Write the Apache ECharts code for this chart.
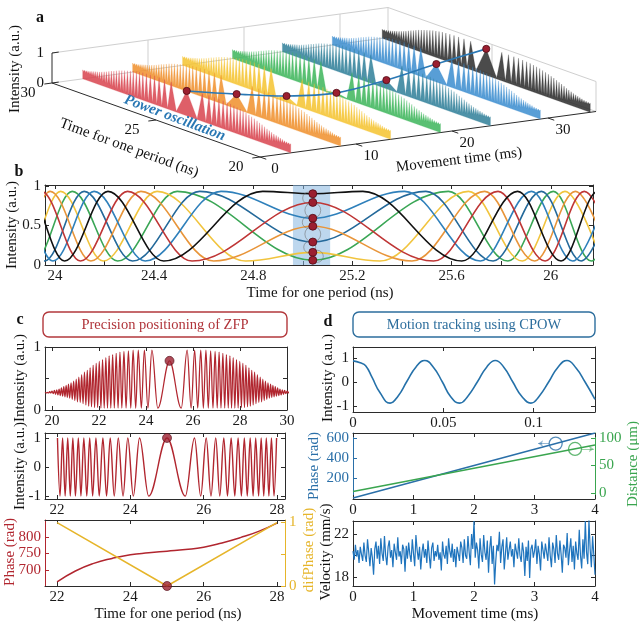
<!DOCTYPE html>
<html>
<head>
<meta charset="utf-8">
<script src="https://cdn.jsdelivr.net/npm/echarts@6/dist/echarts.min.js"></script>
<style>
html,body{margin:0;padding:0;background:#fff;}
#chart{width:639px;height:627px;}
</style>
</head>
<body>
<div id="chart"></div>
<script>
// ---------------- panel a : waterfall ----------------
var movementTicks = [0, 10, 20, 30];
var periodTicks = [20, 25, 30];
var traceMovement = [3.2, 8.4, 13.6, 18.8, 24.0, 29.2, 34.4];
var powerOsc = [0.83, 0.50, 0.21, 0.09, 0.29, 0.60, 0.88];
var zfpA = 25.0;

// fringe positions, ns away from the zero-frequency point (shared by a and c)
var peakOffsets = [0.75, 1.07, 1.33, 1.55, 1.75, 1.94, 2.11, 2.27, 2.42, 2.57, 2.71, 2.85, 2.99,
  3.12, 3.25, 3.38, 3.50, 3.62, 3.74, 3.86, 3.97, 4.08, 4.19, 4.30, 4.40, 4.50, 4.60, 4.70,
  4.80, 4.90, 5.00, 5.10, 5.20, 5.30];
var troughOffsets = [0.50, 0.92, 1.20, 1.44, 1.65, 1.85, 2.03, 2.19, 2.35, 2.50, 2.64, 2.78, 2.92,
  3.06, 3.19, 3.32, 3.44, 3.56, 3.68, 3.80, 3.92, 4.03, 4.14, 4.25, 4.35, 4.45, 4.55, 4.65,
  4.75, 4.85, 4.95, 5.05, 5.15, 5.25];
// envelope of the intensity signal at those fringes
var envPeak = [0.95, 0.95, 0.95, 0.95, 0.94, 0.93, 0.92, 0.90, 0.88, 0.86, 0.83, 0.80, 0.77,
  0.74, 0.71, 0.67, 0.63, 0.60, 0.56, 0.52, 0.49, 0.46, 0.43, 0.41, 0.39, 0.37, 0.35, 0.33,
  0.32, 0.31, 0.30, 0.29, 0.28, 0.28];
var envTrough = [0.03, 0.03, 0.03, 0.03, 0.03, 0.03, 0.03, 0.03, 0.03, 0.03, 0.03, 0.03, 0.03,
  0.04, 0.04, 0.05, 0.06, 0.08, 0.10, 0.12, 0.13, 0.15, 0.17, 0.19, 0.20, 0.21, 0.22, 0.23,
  0.24, 0.25, 0.26, 0.27, 0.27, 0.27];
var envEdge = 0.28;

// ---------------- panel b ----------------
var bZfp = 25.04;
var bBlack = [[23.758,0.05],[23.890,0.93],[24.039,0.05],[24.214,0.93],[24.439,0.05],[24.838,0.93],[25.04,0.90],[25.242,0.93],[25.641,0.05],[25.866,0.93],[26.041,0.05],[26.190,0.93],[26.322,0.05]];
var bRed = [[23.807,0.05],[23.945,0.93],[24.103,0.05],[24.293,0.93],[24.553,0.05],[25.04,0.79],[25.527,0.05],[25.787,0.93],[25.977,0.05],[26.135,0.93],[26.273,0.05]];
var bBlue = [[23.721,0.05],[23.849,0.93],[23.992,0.05],[24.158,0.93],[24.364,0.05],[24.670,0.93],[25.04,0.59],[25.410,0.93],[25.716,0.05],[25.922,0.93],[26.088,0.05],[26.231,0.93]];
var bOrange = [[23.712,0.93],[23.839,0.05],[23.981,0.93],[24.145,0.05],[24.347,0.93],[24.640,0.05],[25.04,0.49],[25.440,0.05],[25.733,0.93],[25.935,0.05],[26.099,0.93],[26.241,0.05]];
var bTeal = [[23.694,0.05],[23.819,0.93],[23.958,0.05],[24.118,0.93],[24.313,0.05],[24.584,0.93],[25.04,0.29],[25.496,0.93],[25.767,0.05],[25.962,0.93],[26.122,0.05],[26.261,0.93]];
var bYellow = [[23.745,0.93],[23.876,0.05],[24.023,0.93],[24.195,0.05],[24.412,0.93],[24.769,0.05],[25.04,0.16],[25.311,0.05],[25.668,0.93],[25.885,0.05],[26.057,0.93],[26.204,0.05]];
var bGreen = [[23.783,0.93],[23.917,0.05],[24.070,0.93],[24.253,0.05],[24.493,0.93],[25.04,0.06],[25.587,0.93],[25.827,0.05],[26.010,0.93],[26.163,0.05],[26.297,0.93]];
var bDots = [0.90, 0.79, 0.59, 0.49, 0.29, 0.16, 0.06];
var bBand = [24.96, 25.11];
var bTicks = [24, 24.2, 24.4, 24.6, 24.8, 25, 25.2, 25.4, 25.6, 25.8, 26];
var bLabels = [24, 24.4, 24.8, 25.2, 25.6, 26];

// ---------------- panel c ----------------
var zfpC = 25.0;
var cTopZfp = 0.78;
var cPhaseTime = [22, 22.5, 23, 23.5, 24, 24.5, 25, 25.5, 26, 26.5, 27, 27.5, 28];
var cPhase = [664, 697, 720, 735, 746, 752, 757, 762, 769, 782, 798, 817, 842];
var cDifTime = [22, 25, 28];
var cDif = [1, 0, 1];

// ---------------- panel d ----------------
var dSig = [[0,0.88],[0.004,0.80],[0.007,0.68],[0.0105,0.20],[0.015,-0.45],[0.0205,-0.88],[0.025,-0.58],
  [0.0298,0.02],[0.035,0.64],[0.0397,0.90],[0.0445,0.62],[0.0495,0.0],[0.054,-0.60],[0.059,-0.88],
  [0.0635,-0.60],[0.069,0.02],[0.074,0.62],[0.0788,0.90],[0.0835,0.62],[0.0885,0.0],[0.0935,-0.60],
  [0.0985,-0.88],[0.103,-0.60],[0.1085,0.02],[0.1135,0.62],[0.1185,0.90],[0.1235,0.58],[0.1285,0.0],
  [0.134,-0.72]];
var dTrackTime = [0, 4];
var dPhase = [0, 650];
var dDist = [2.5, 87];
var dPhaseMark = [3.35, 544];
var dDistMark = [3.67, 80];
var dPhaseArrow = [[3.24, 544], [3.06, 544]];
var dDistArrow = [[3.78, 80], [3.98, 80]];
var velocityStep = 0.02;
var velocity = [
20.4,19.6,21.0,19.9,20.5,19.3,20.8,20.1,19.5,21.2,
20.0,19.4,21.5,20.3,19.0,20.7,19.8,18.2,20.6,21.3,
19.7,20.9,19.2,21.6,20.2,19.5,21.8,20.0,19.1,20.8,
21.4,19.8,20.5,18.9,21.1,20.3,19.6,21.7,19.9,20.4,
19.2,21.0,20.6,18.5,20.9,19.7,21.2,20.1,19.4,21.5,
20.2,19.0,21.9,20.5,19.6,20.8,18.7,20.3,21.1,19.8,
20.6,19.3,21.4,20.0,18.8,20.7,21.2,19.5,20.4,19.9,
21.0,19.6,20.3,18.6,21.3,20.1,19.7,20.9,19.2,21.6,
20.4,19.8,21.1,19.4,20.6,18.9,20.8,20.2,19.5,21.3,
20.7,19.3,21.5,20.0,19.7,21.8,20.3,19.1,22.0,20.6,
23.2,19.8,21.2,20.5,18.8,21.6,20.1,19.4,21.9,20.3,
19.6,21.4,18.4,20.7,21.8,19.2,20.9,17.3,19.5,21.0,
20.4,22.2,19.3,20.8,21.5,18.7,20.2,21.7,19.6,20.5,
21.3,19.9,20.6,18.9,21.1,20.4,19.7,21.6,20.0,19.4,
21.2,20.3,18.1,20.8,19.5,21.4,17.9,20.6,21.0,19.8,
20.4,21.5,19.2,20.9,20.1,18.6,21.3,20.5,19.7,21.1,
20.3,19.5,21.7,20.0,18.9,21.2,20.6,19.3,21.9,20.2,
19.6,21.4,20.1,18.4,21.0,20.7,19.8,22.1,19.1,20.5,
21.6,19.4,20.9,18.7,21.3,20.2,19.6,22.4,20.0,18.8,
21.5,19.7,23.2,20.3,19.2,23.3,20.6,18.9,21.8,20.1,
18.2];

// ---------------- styles ----------------
var FONT = '"Liberation Serif", "Times New Roman", serif';
var AXC = '#2b2b2b';
var RED = '#b1262f';
var DOT = '#9b1f30', DOTEDGE = '#4f0a14';
var YEL = '#e6b52a';
var BLU = '#2a6fa8', GRN = '#3aa54f';
var traceColors = ['#d8434d', '#f08f2c', '#f5c32f', '#3db55a', '#2f7f99', '#3b8dcf', '#2b2b2b'];

var chart = echarts.init(document.getElementById('chart'));

function buildFringe(center, pv, tv, cv, lo, hi) {
  var pts = [[center, cv]];
  for (var i = 0; i < peakOffsets.length; i++) {
    var p = Array.isArray(pv) ? pv[i] : pv;
    var t = Array.isArray(tv) ? tv[i] : tv;
    pts.push([center - peakOffsets[i], p], [center + peakOffsets[i], p]);
    pts.push([center - troughOffsets[i], t], [center + troughOffsets[i], t]);
  }
  return pts.filter(function (d) { return d[0] >= lo && d[0] <= hi; })
            .sort(function (a, b) { return a[0] - b[0]; });
}

var grids = [
  {left: 52, top: 53, width: 336, height: 30},    // a : back wall plane
  {left: 45, top: 185, width: 548, height: 80},   // b
  {left: 45, top: 347, width: 242, height: 63},   // c top
  {left: 45, top: 433, width: 240, height: 66},   // c mid
  {left: 45, top: 520, width: 240, height: 66},   // c bottom
  {left: 353, top: 347, width: 242, height: 65},  // d top
  {left: 353, top: 433, width: 242, height: 66},  // d mid
  {left: 353, top: 521, width: 242, height: 65}   // d bottom
];

var xAxes = [{gridIndex: 0, type: 'value', min: 0, max: 35, show: false}];
var yAxes = [{gridIndex: 0, type: 'value', min: 0, max: 1, show: false}];

function axis(g, pos, range, ticks, labels, color) {
  return {
    type: 'value', gridIndex: g, position: pos, min: range[0], max: range[1],
    axisLine: {show: true, onZero: false, lineStyle: {color: color || AXC, width: 1}},
    axisTick: {show: true, inside: true, length: 4, customValues: ticks, lineStyle: {color: color || AXC}},
    axisLabel: {show: !!labels, customValues: labels || ticks, fontFamily: FONT, fontSize: 15,
                color: color || '#1a1a1a', margin: 4},
    splitLine: {show: false}
  };
}
function box(g, xr, xt, xl, yr, yt, yl, yr2, yt2, yl2, lc, rc) {
  var ix = xAxes.length, iy = yAxes.length;
  xAxes.push(axis(g, 'bottom', xr, xt, xl));
  xAxes.push(axis(g, 'top', xr, xt, null));
  yAxes.push(axis(g, 'left', yr, yt, yl, lc));
  yAxes.push(yr2 ? axis(g, 'right', yr2, yt2, yl2, rc) : axis(g, 'right', yr, yt, null));
  return {x: ix, y: iy, y2: iy + 1};
}

var B = box(1, [23.96, 26.17], bTicks, bLabels, [0, 1.01], [0, 0.5, 1], [0, 0.5, 1]);
var CT = box(2, [19.7, 30], [20, 22, 24, 26, 28, 30], [20, 22, 24, 26, 28, 30], [0, 1], [0, 0.5, 1], [0, 1]);
var CM = box(3, [21.67, 28.22], [22, 24, 26, 28], [22, 24, 26, 28], [-1.1, 1.17], [-1, 0, 1], [-1, 0, 1]);
var CB = box(4, [21.67, 28.22], [22, 24, 26, 28], [22, 24, 26, 28], [651.5, 851.5], [700, 750, 800], [700, 750, 800],
             [0, 1.04], [0, 0.5, 1], [0, 1], RED, YEL);
var DT = box(5, [0, 0.134], [0, 0.05, 0.1], [0, 0.05, 0.1], [-1.25, 1.46], [-1, 0, 1], [-1, 0, 1]);
var DM = box(6, [0, 4], [0, 1, 2, 3, 4], [0, 1, 2, 3, 4], [-10, 650], [200, 400, 600], [200, 400, 600],
             [-11, 109], [0, 50, 100], [0, 50, 100], BLU, GRN);
var DB = box(7, [0, 4], [0, 1, 2, 3, 4], [0, 1, 2, 3, 4], [17.16, 23.21], [18, 20, 22], [18, 22]);

// ---- panel a projection: movement/intensity via the hidden axes, period as oblique depth
var PER_X = 20.8, PER_Y = 7.4, SHEAR_Y = 1.3;
function projector(api) {
  return function (m, p, z) {
    var c = api.coord([m, z]);
    return [c[0] + (30 - p) * PER_X, c[1] + (30 - p) * PER_Y - m * SHEAR_Y];
  };
}
function tEl(pt, s, o) {
  o = o || {};
  return {type: 'text', x: pt[0], y: pt[1], rotation: o.rot || 0,
    style: {text: s, fill: o.color || '#111', fontFamily: FONT, fontSize: o.size || 15,
            fontWeight: o.weight || 'normal', fontStyle: o.italic ? 'italic' : 'normal',
            align: o.align || 'center', verticalAlign: 'middle'}};
}
function seg(a, b, color, w) {
  return {type: 'line', shape: {x1: a[0], y1: a[1], x2: b[0], y2: b[1]}, style: {stroke: color, lineWidth: w}};
}
function off(p, dx, dy) { return [p[0] + dx, p[1] + dy]; }

var series = [];

series.push({
  type: 'custom', coordinateSystem: 'cartesian2d', xAxisIndex: 0, yAxisIndex: 0, silent: true, z: 1,
  data: [[0, 0]],
  renderItem: function (params, api) {
    var P = projector(api), k = [], grey = '#cfcfcf';
    k.push(seg(P(0, 30, 1), P(35, 30, 1), grey, 1));
    k.push(seg(P(0, 30, 0), P(35, 30, 0), grey, 1));
    [10, 20, 30, 35].forEach(function (m) { k.push(seg(P(m, 30, 0), P(m, 30, 1), grey, 1)); });
    k.push(seg(P(35, 30, 1), P(35, 20, 1), grey, 1));
    k.push(seg(P(35, 30, 0), P(35, 20, 0), grey, 1));
    k.push(seg(P(35, 20, 0), P(35, 20, 1), grey, 1));
    k.push(seg(P(35, 25, 0), P(35, 25, 1), grey, 1));
    k.push(seg(P(0, 30, 0), P(0, 30, 1), AXC, 1));
    k.push(seg(P(0, 30, 0), P(0, 20, 0), AXC, 1));
    k.push(seg(P(0, 20, 0), P(35, 20, 0), AXC, 1));
    [0, 1].forEach(function (z) {
      k.push(seg(P(0, 30, z), P(0.7, 30, z), AXC, 1));
      k.push(tEl(off(P(0, 30, z), -8, 0), String(z), {align: 'right'}));
    });
    periodTicks.forEach(function (p) {
      k.push(seg(P(0, p, 0), P(-0.8, p, 0), AXC, 1));
      k.push(tEl(off(P(0, p, 0), -24, 10), String(p)));
    });
    movementTicks.forEach(function (m) {
      k.push(seg(P(m, 20, 0), P(m, 19.7, 0), AXC, 1));
      k.push(tEl(off(P(m, 20, 0), 15, 12), String(m)));
    });
    k.push(tEl(off(P(0, 25, 0), -27, 28), 'Time for one period (ns)', {rot: -0.35}));
    k.push(tEl(off(P(20, 20, 0), 7, 29), 'Movement time (ms)', {rot: 0.12}));
    k.push(tEl([15, 69], 'Intensity (a.u.)', {rot: Math.PI / 2}));
    return {type: 'group', children: k};
  }
});

series.push({
  type: 'custom', coordinateSystem: 'cartesian2d', xAxisIndex: 0, yAxisIndex: 0, silent: true, z: 2,
  data: [[6, 0], [5, 0], [4, 0], [3, 0], [2, 0], [1, 0], [0, 0]],
  renderItem: function (params, api) {
    var P = projector(api), idx = api.value(0), m = traceMovement[idx];
    var sig = buildFringe(zfpA, envPeak, envTrough, powerOsc[idx], 20, 30);
    var pts = [P(m, 20, 0), P(m, 20, envEdge)];
    sig.forEach(function (d) { pts.push(P(m, d[0], d[1])); });
    pts.push(P(m, 30, envEdge), P(m, 30, 0));
    var col = traceColors[idx];
    return {type: 'polygon', shape: {points: pts},
            style: {fill: echarts.color.modifyAlpha(col, 0.85), stroke: echarts.color.modifyAlpha(col, 0.6), lineWidth: 0.4}};
  }
});

series.push({
  type: 'custom', coordinateSystem: 'cartesian2d', xAxisIndex: 0, yAxisIndex: 0, silent: true, z: 3,
  data: [[0, 0]],
  renderItem: function (params, api) {
    var P = projector(api);
    var pts = traceMovement.map(function (m, i) { return P(m, zfpA, powerOsc[i]); });
    var k = [{type: 'polyline', shape: {points: pts, smooth: 0.35}, style: {stroke: '#2a78b4', lineWidth: 1.6, fill: null}}];
    pts.forEach(function (p) {
      k.push({type: 'circle', shape: {cx: p[0], cy: p[1], r: 3.6}, style: {fill: DOT, stroke: DOTEDGE, lineWidth: 0.8}});
    });
    k.push(tEl(off(P(0, 24.2, 0), 2, -8), 'Power oscillation',
               {rot: -0.36, color: '#2a78b4', weight: 'bold', italic: true, size: 15}));
    return {type: 'group', children: k};
  }
});

// ---- panel b
function bLine(data, color) {
  series.push({type: 'line', xAxisIndex: B.x, yAxisIndex: B.y, data: data, symbol: 'none',
    smooth: 0.36, smoothMonotone: 'x', clip: true, silent: true, z: 2,
    lineStyle: {color: color, width: 1.6}});
}
bLine(bGreen, '#3aa655');
bLine(bYellow, '#f1c43e');
bLine(bTeal, '#24699a');
bLine(bOrange, '#e8953a');
bLine(bBlue, '#2f80bb');
bLine(bRed, '#bf3636');
bLine(bBlack, '#111111');
series.push({type: 'line', xAxisIndex: B.x, yAxisIndex: B.y, data: [[bZfp, -1]], symbol: 'none', silent: true, z: 3,
  lineStyle: {width: 0},
  markArea: {silent: true, itemStyle: {color: 'rgba(135,182,224,0.55)'},
             data: [[{xAxis: bBand[0]}, {xAxis: bBand[1]}]]}});
// grey loops linking neighbouring dots
series.push({
  type: 'custom', coordinateSystem: 'cartesian2d', xAxisIndex: B.x, yAxisIndex: B.y, silent: true, z: 3,
  data: [[bZfp, 0]],
  renderItem: function (params, api) {
    var k = [];
    for (var i = 0; i < bDots.length - 1; i++) {
      var a = api.coord([bZfp, bDots[i]]), b = api.coord([bZfp, bDots[i + 1]]);
      var r = Math.max(Math.abs(b[1] - a[1]) / 2, 6);
      var dx = (i % 2 === 0 ? -1 : 1) * Math.sqrt(Math.max(r * r - Math.pow((b[1] - a[1]) / 2, 2), 0));
      k.push({type: 'circle', shape: {cx: a[0] + dx, cy: (a[1] + b[1]) / 2, r: r},
              style: {fill: null, stroke: 'rgba(110,110,110,0.55)', lineWidth: 1}});
    }
    return {type: 'group', children: k};
  }
});
series.push({type: 'scatter', xAxisIndex: B.x, yAxisIndex: B.y, silent: true, z: 4, symbolSize: 8,
  data: bDots.map(function (v) { return [bZfp, v]; }),
  itemStyle: {color: DOT, borderColor: DOTEDGE, borderWidth: 0.8, opacity: 1}});

// ---- panel c
series.push({type: 'line', xAxisIndex: CT.x, yAxisIndex: CT.y, symbol: 'none', silent: true,
  data: buildFringe(zfpC, envPeak, envTrough, cTopZfp, 19, 31), smooth: 0.36, smoothMonotone: 'x',
  lineStyle: {color: RED, width: 1.25}});
series.push({type: 'scatter', xAxisIndex: CT.x, yAxisIndex: CT.y, silent: true, symbolSize: 9, z: 4,
  data: [[zfpC, cTopZfp]], itemStyle: {color: DOT, borderColor: DOTEDGE, borderWidth: 0.8}});
series.push({type: 'line', xAxisIndex: CM.x, yAxisIndex: CM.y, symbol: 'none', silent: true,
  data: buildFringe(zfpC, 1, -1, 1, 21.99, 28.01), smooth: 0.36, smoothMonotone: 'x',
  lineStyle: {color: RED, width: 1.4}});
series.push({type: 'scatter', xAxisIndex: CM.x, yAxisIndex: CM.y, silent: true, symbolSize: 9, z: 4,
  data: [[zfpC, 1]], itemStyle: {color: DOT, borderColor: DOTEDGE, borderWidth: 0.8}});
series.push({type: 'line', xAxisIndex: CB.x, yAxisIndex: CB.y, symbol: 'none', silent: true, smooth: true,
  data: cPhaseTime.map(function (t, i) { return [t, cPhase[i]]; }), lineStyle: {color: RED, width: 1.5}});
series.push({type: 'line', xAxisIndex: CB.x, yAxisIndex: CB.y2, symbol: 'none', silent: true,
  data: cDifTime.map(function (t, i) { return [t, cDif[i]]; }), lineStyle: {color: YEL, width: 1.5}});
series.push({type: 'scatter', xAxisIndex: CB.x, yAxisIndex: CB.y2, silent: true, symbolSize: 9, z: 4,
  data: [[zfpC, 0]], itemStyle: {color: DOT, borderColor: DOTEDGE, borderWidth: 0.8}});

// ---- panel d
series.push({type: 'line', xAxisIndex: DT.x, yAxisIndex: DT.y, symbol: 'none', silent: true, smooth: 0.5,
  data: dSig, lineStyle: {color: '#2571a9', width: 1.6}});
series.push({type: 'line', xAxisIndex: DM.x, yAxisIndex: DM.y, symbol: 'none', silent: true,
  data: dTrackTime.map(function (t, i) { return [t, dPhase[i]]; }), lineStyle: {color: BLU, width: 1.5}});
series.push({type: 'line', xAxisIndex: DM.x, yAxisIndex: DM.y2, symbol: 'none', silent: true,
  data: dTrackTime.map(function (t, i) { return [t, dDist[i]]; }), lineStyle: {color: GRN, width: 1.5}});
series.push({type: 'scatter', xAxisIndex: DM.x, yAxisIndex: DM.y, silent: true, symbol: 'circle', symbolSize: 13,
  data: [dPhaseMark], itemStyle: {color: 'rgba(0,0,0,0)', borderColor: BLU, borderWidth: 1.3}});
series.push({type: 'scatter', xAxisIndex: DM.x, yAxisIndex: DM.y2, silent: true, symbol: 'circle', symbolSize: 13,
  data: [dDistMark], itemStyle: {color: 'rgba(0,0,0,0)', borderColor: GRN, borderWidth: 1.3}});
series.push({type: 'lines', coordinateSystem: 'cartesian2d', xAxisIndex: DM.x, yAxisIndex: DM.y, silent: true,
  symbol: ['none', 'arrow'], symbolSize: 5, data: [{coords: dPhaseArrow}], lineStyle: {color: BLU, width: 1.1}});
series.push({type: 'lines', coordinateSystem: 'cartesian2d', xAxisIndex: DM.x, yAxisIndex: DM.y2, silent: true,
  symbol: ['none', 'arrow'], symbolSize: 5, data: [{coords: dDistArrow}], lineStyle: {color: GRN, width: 1.1}});
series.push({type: 'line', xAxisIndex: DB.x, yAxisIndex: DB.y, symbol: 'none', silent: true,
  data: velocity.map(function (v, i) { return [i * velocityStep, v]; }), lineStyle: {color: '#1f74bd', width: 1.2}});

// ---- static texts
function gText(x, y, s, o) {
  o = o || {};
  return {type: 'text', x: x, y: y, rotation: o.rot || 0, silent: true, z: 10,
    style: {text: s, fill: o.color || '#111', fontFamily: FONT, fontSize: o.size || 15,
            fontWeight: o.weight || 'normal', align: 'center', verticalAlign: 'middle'}};
}
var V = Math.PI / 2;
var graphics = [
  gText(40, 18, 'a', {weight: 'bold', size: 16}),
  gText(19, 172, 'b', {weight: 'bold', size: 16}),
  gText(20, 320, 'c', {weight: 'bold', size: 16}),
  gText(328, 322, 'd', {weight: 'bold', size: 16}),
  gText(12, 225, 'Intensity (a.u.)', {rot: V}),
  gText(320, 293, 'Time for one period (ns)'),
  {type: 'rect', shape: {x: 43, y: 312, width: 244, height: 25, r: 6}, silent: true,
   style: {fill: 'none', stroke: '#b3383c', lineWidth: 1.4}},
  gText(165, 325, 'Precision positioning of ZFP', {color: '#b0343a', size: 14.5}),
  {type: 'rect', shape: {x: 353, y: 312, width: 242, height: 25, r: 6}, silent: true,
   style: {fill: 'none', stroke: '#2d6e9d', lineWidth: 1.4}},
  gText(474, 325, 'Motion tracking using CPOW', {color: '#2d6e9d', size: 14.5}),
  gText(20, 378, 'Intensity (a.u.)', {rot: V}),
  gText(20, 466, 'Intensity (a.u.)', {rot: V}),
  gText(10, 552, 'Phase (rad)', {rot: V, color: RED}),
  gText(309, 550, 'difPhase (rad)', {rot: V, color: YEL}),
  gText(168, 614, 'Time for one period (ns)'),
  gText(328, 378, 'Intensity (a.u.)', {rot: V}),
  gText(314, 466, 'Phase (rad)', {rot: V, color: BLU}),
  gText(633, 464, 'Distance (\u03bcm)', {rot: V, color: GRN}),
  gText(326, 552, 'Velocity (mm/s)', {rot: V}),
  gText(475, 614, 'Movement time (ms)')
];

chart.setOption({
  animation: false,
  backgroundColor: '#ffffff',
  textStyle: {fontFamily: FONT},
  grid: grids,
  xAxis: xAxes,
  yAxis: yAxes,
  series: series,
  graphic: graphics
});
</script>
</body>
</html>
